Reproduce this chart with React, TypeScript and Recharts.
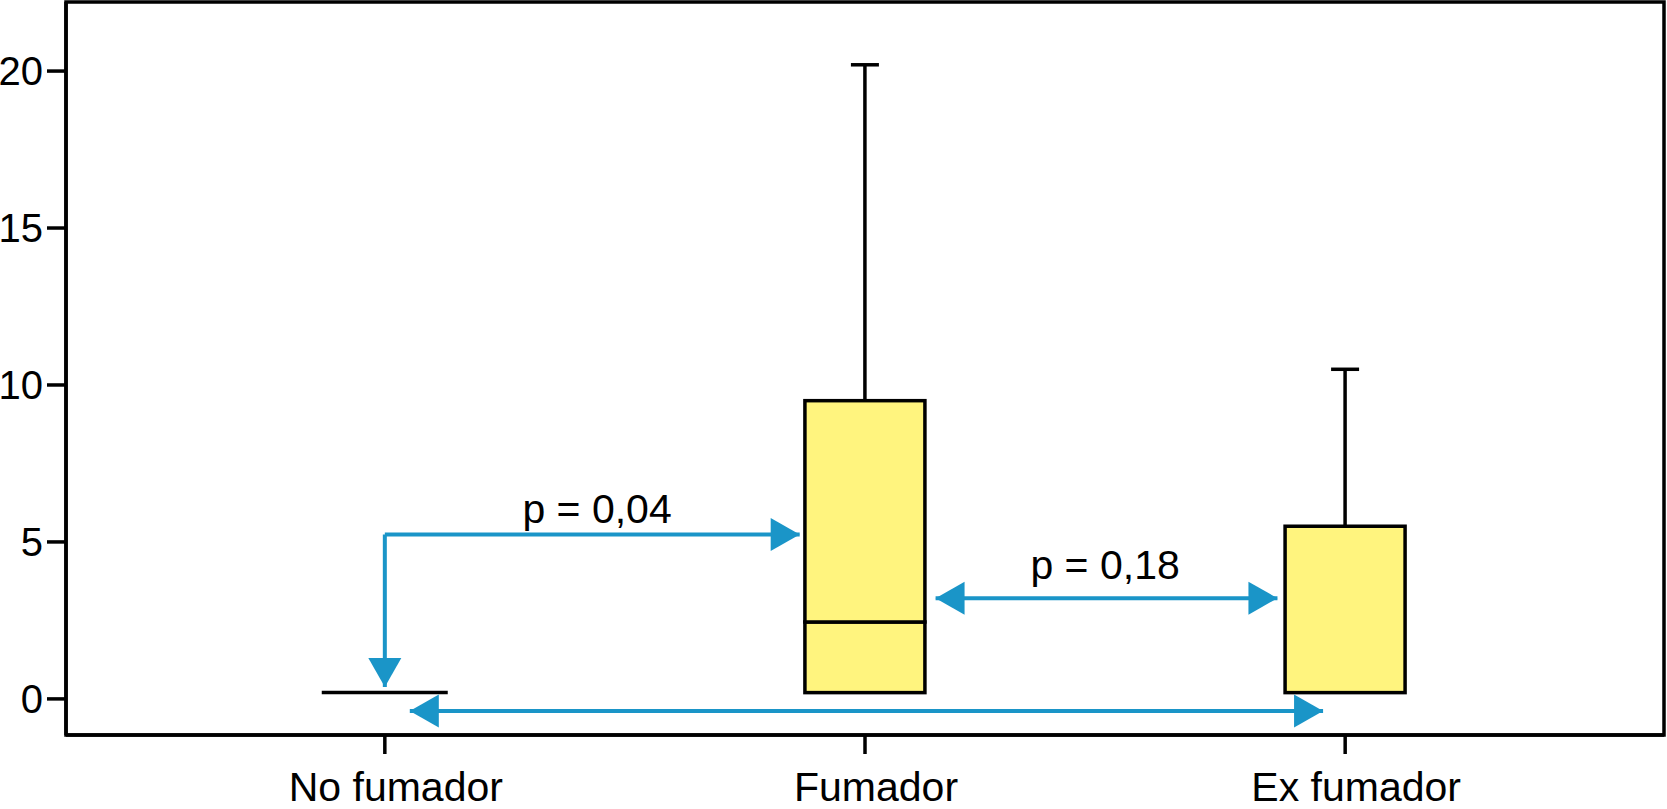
import React from 'react';
import { ComposedChart, Bar, XAxis, YAxis, ReferenceArea, ReferenceLine, ReferenceDot } from 'recharts';

const FONT = "'Liberation Sans', Arial, Helvetica, sans-serif";
const BLUE = '#1a95c8';
const YELLOW = '#fff47e';

// box plot values per group
const groups = ['No fumador', 'Fumador', 'Ex fumador'];
const q1 = [0.2, 0.2, 0.2];
const median = [0.2, 2.45, 0.2];
const q3 = [0.2, 9.5, 5.5];
const whiskerMax = [0.2, 20.2, 10.5];

const yTicks = [0, 5, 10, 15, 20];
const yDomain = [-1.15, 22.2];
// hidden numeric axis: group n sits at x = n
const xDomain = [0.336, 3.664];

// significance arrows, in group units / data units
const arrowPaths = [
    [{ x: 1, y: 0.38 }, { x: 1, y: 5.24 }, { x: 1.864, y: 5.24 }],
    [{ x: 2.147, y: 3.21 }, { x: 2.859, y: 3.21 }],
    [{ x: 1.052, y: -0.385 }, { x: 2.954, y: -0.385 }],
];
const arrowHeads = [
    { x: 1, y: 0.38, dir: 'down' },
    { x: 1.864, y: 5.24, dir: 'right' },
    { x: 2.147, y: 3.21, dir: 'left' },
    { x: 2.859, y: 3.21, dir: 'right' },
    { x: 1.052, y: -0.385, dir: 'left' },
    { x: 2.954, y: -0.385, dir: 'right' },
];
const pLabels = [
    { x: 1.442, y: 5.59, text: 'p = 0,04' },
    { x: 2.5, y: 3.81, text: 'p = 0,18' },
];

const boxData = groups.map((g, i) => ({
    group: g,
    q1: q1[i],
    q3: q3[i],
    base: q1[i],
    lower: median[i] - q1[i],
    upper: q3[i] - median[i],
    whisker: whiskerMax[i] - q3[i],
}));

const BaseShape = (props: any) => {
    const { x, y, width, payload } = props;
    // groups without a box are drawn as a flat line
    if (payload.q3 > payload.q1) return <g />;
    return <line x1={x - 3} x2={x + width + 3} y1={y} y2={y} stroke="#000" strokeWidth={3.5} />;
};

const BoxShape = (props: any) => {
    const { x, y, width, height } = props;
    if (!height || height <= 0.01) return <g />;
    return <rect x={x} y={y} width={width} height={height} fill={YELLOW} stroke="#000" strokeWidth={3.5} />;
};

const WhiskerShape = (props: any) => {
    const { x, y, width, height } = props;
    if (!height || height <= 0.01) return <g />;
    const cx = x + width / 2;
    return (
        <g stroke="#000" strokeWidth={3.5}>
            <line x1={cx} x2={cx} y1={y + height} y2={y} />
            <line x1={cx - 14} x2={cx + 14} y1={y} y2={y} />
        </g>
    );
};

const GroupTick = (props: any) => {
    const { x, y, payload } = props;
    return (
        <text x={x + 11} y={y} dy="0.71em" textAnchor="middle" fontSize={41} fontFamily={FONT} fill="#000">
            {payload.value}
        </text>
    );
};

const arrowPoints = (cx: number, cy: number, dir: string) => {
    const L = 29, W = 16.5;
    if (dir === 'right') return `${cx},${cy} ${cx - L},${cy - W} ${cx - L},${cy + W}`;
    if (dir === 'left') return `${cx},${cy} ${cx + L},${cy - W} ${cx + L},${cy + W}`;
    return `${cx},${cy} ${cx - W},${cy - L} ${cx + W},${cy - L}`;
};

const App = () => {
    const segments = arrowPaths.flatMap((path) =>
        path.slice(1).map((pt, i) => [path[i], pt])
    );

    return (
        <div style={{ position: 'absolute', left: 0, top: 0, background: '#fff' }}>
            <ComposedChart
                width={1667}
                height={809}
                data={boxData}
                margin={{ top: 2, right: 3, bottom: 0, left: 0 }}
                barSize={120}
            >
                <XAxis
                    dataKey="group"
                    padding={{ left: 78.75, right: 78.75 }}
                    height={74}
                    tickSize={19}
                    tickMargin={18}
                    interval={0}
                    axisLine={{ stroke: '#000', strokeWidth: 3.5 }}
                    tickLine={{ stroke: '#000', strokeWidth: 3.5 }}
                    tick={<GroupTick />}
                />
                <XAxis xAxisId="num" type="number" dataKey="x" domain={xDomain} allowDataOverflow hide />
                <YAxis
                    type="number"
                    domain={yDomain}
                    allowDataOverflow
                    ticks={yTicks}
                    interval={0}
                    width={66}
                    tickSize={19}
                    tickMargin={4}
                    axisLine={{ stroke: '#000', strokeWidth: 3.5 }}
                    tickLine={{ stroke: '#000', strokeWidth: 3.5 }}
                    tick={{ fill: '#000', fontSize: 40, fontFamily: FONT }}
                />

                <Bar dataKey="base" stackId="box" shape={BaseShape} isAnimationActive={false} />
                <Bar dataKey="lower" stackId="box" shape={BoxShape} isAnimationActive={false} />
                <Bar dataKey="upper" stackId="box" shape={BoxShape} isAnimationActive={false} />
                <Bar dataKey="whisker" stackId="box" shape={WhiskerShape} isAnimationActive={false} />

                {segments.map(([a, b], i) => (
                    <ReferenceLine
                        key={`seg-${i}`}
                        xAxisId="num"
                        segment={[{ x: a.x, y: a.y }, { x: b.x, y: b.y }]}
                        stroke={BLUE}
                        strokeWidth={4}
                        ifOverflow="visible"
                    />
                ))}
                {arrowHeads.map((h, i) => (
                    <ReferenceDot
                        key={`head-${i}`}
                        xAxisId="num"
                        x={h.x}
                        y={h.y}
                        r={1}
                        ifOverflow="visible"
                        shape={(p: any) => <polygon points={arrowPoints(p.cx, p.cy, h.dir)} fill={BLUE} />}
                    />
                ))}
                {pLabels.map((l, i) => (
                    <ReferenceDot
                        key={`lab-${i}`}
                        xAxisId="num"
                        x={l.x}
                        y={l.y}
                        r={1}
                        ifOverflow="visible"
                        shape={(p: any) => (
                            <text x={p.cx} y={p.cy} textAnchor="middle" fontSize={41} fontFamily={FONT} fill="#000">
                                {l.text}
                            </text>
                        )}
                    />
                ))}

                <ReferenceArea
                    xAxisId="num"
                    x1={xDomain[0]}
                    x2={xDomain[1]}
                    y1={yDomain[0]}
                    y2={yDomain[1]}
                    fill="none"
                    fillOpacity={0}
                    stroke="#000"
                    strokeWidth={3.5}
                    ifOverflow="visible"
                />
            </ComposedChart>
        </div>
    );
};

export default App;
